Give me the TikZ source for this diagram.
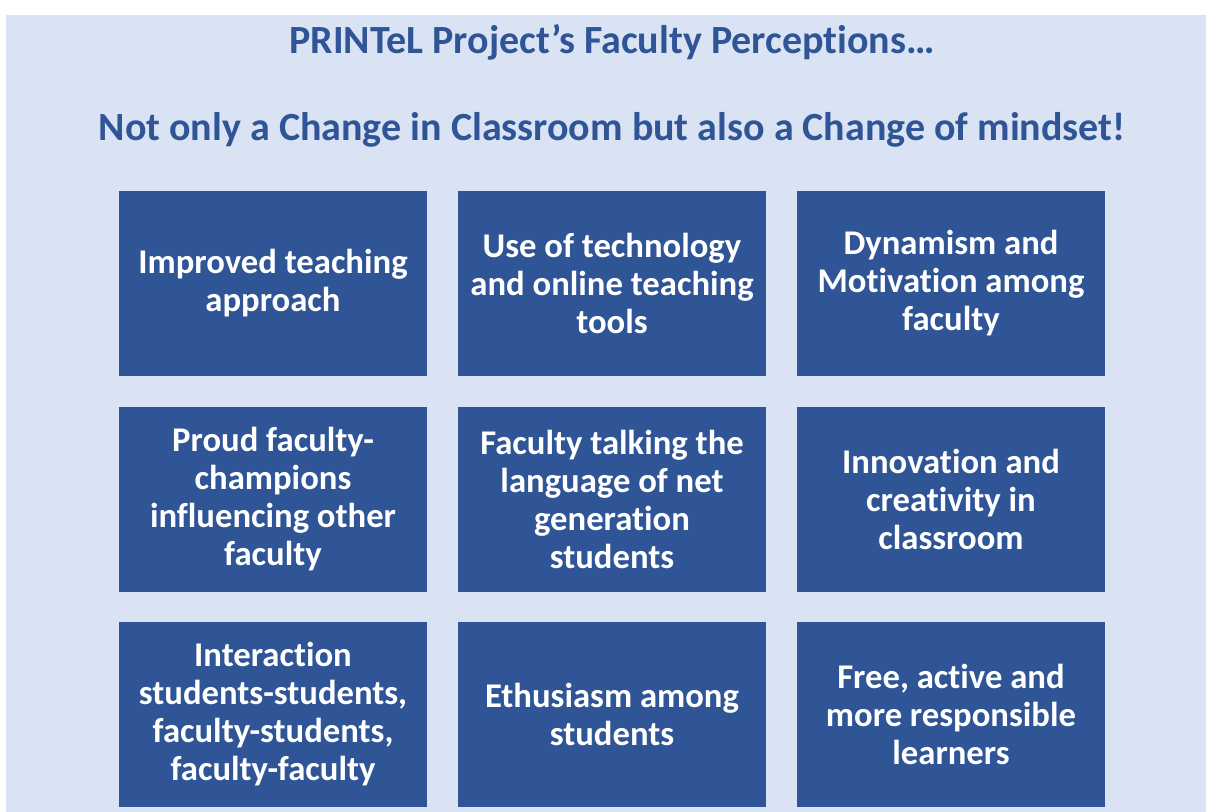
\documentclass[tikz,border=0pt]{standalone}
\usepackage{fontspec}
\setmainfont{Carlito}[RawFeature={-liga;-calt;-clig}]
\definecolor{panelbg}{RGB}{218,227,243}
\definecolor{darkblue}{RGB}{47,85,151}
\tikzset{
  card/.style={fill=darkblue, text=white, minimum width=231pt, minimum height=138.75pt,
    inner sep=0pt, align=center, font=\bfseries\fontsize{26}{28.5}\selectfont},
  heading/.style={text=darkblue, inner sep=0pt, font=\bfseries\fontsize{30}{34}\selectfont}
}

\begin{document}
\begin{tikzpicture}[x=0.75pt, y=-0.75pt]
  \useasboundingbox (0,0) rectangle (1206,812);
  \fill[white] (0,0) rectangle (1206,812);
  \fill[panelbg] (6,15) rectangle (1206,812);
  % headings
  \node[heading] (title) at (612,42) {PRINTeL Project’s Faculty Perceptions…};
  \node[heading] (subtitle) at (612,130) {Not only a Change in Classroom but also a Change of mindset!};
  % 3x3 cards
  \node[card] (teach)  at (273,283.5) {Improved teaching\\approach};
  \node[card] (tech)   at (612,283.5) {Use of technology\\and online teaching\\tools};
  \node[card] (dyn)    at (951,283.5) {Dynamism and\\Motivation among\\faculty};
  \node[card] (proud)  at (273,499.5) {Proud faculty-\\champions\\influencing other\\faculty};
  \node[card] (lang)   at (612,499.5) {Faculty talking the\\language of net\\generation\\students};
  \node[card] (innov)  at (951,499.5) {Innovation and\\creativity in\\classroom};
  \node[card] (inter)  at (273,714.5) {Interaction\\students-students,\\faculty-students,\\faculty-faculty};
  \node[card] (enth)   at (612,714.5) {Ethusiasm among\\students};
  \node[card] (learn)  at (951,714.5) {Free, active and\\more responsible\\learners};
\end{tikzpicture}
\end{document}
